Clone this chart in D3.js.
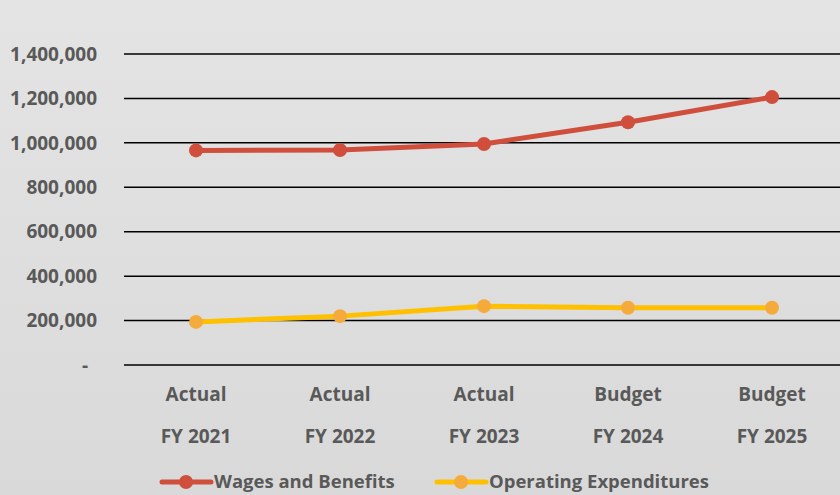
<!DOCTYPE html>
<meta charset="utf-8">
<style>
  html, body { margin: 0; padding: 0; }
  body { width: 840px; height: 495px; overflow: hidden; }
  text { font-family: "Open Sans", Lato, sans-serif; font-weight: bold; fill: #595959; }
</style>
<body>
<script src="https://cdn.jsdelivr.net/npm/d3@7"></script>
<script>
  // chart data
  var periods = ["Actual", "Actual", "Actual", "Budget", "Budget"];
  var years = ["FY 2021", "FY 2022", "FY 2023", "FY 2024", "FY 2025"];
  var wages = [966000, 968000, 995000, 1093000, 1206000];
  var opex = [194000, 220000, 265000, 258000, 258000];
  var yTicks = [0, 200000, 400000, 600000, 800000, 1000000, 1200000, 1400000];

  var width = 840, height = 495;
  var margin = { top: 54, right: -4, bottom: 130, left: 124 };

  var svg = d3.select("body").append("svg")
    .attr("width", width)
    .attr("height", height);

  // background gradient
  var grad = svg.append("defs").append("linearGradient")
    .attr("id", "bg").attr("x1", 0).attr("y1", 0).attr("x2", 0).attr("y2", 1);
  grad.append("stop").attr("offset", "0%").attr("stop-color", "#e4e4e4");
  grad.append("stop").attr("offset", "100%").attr("stop-color", "#d9d9d9");
  svg.append("rect").attr("width", width).attr("height", height).attr("fill", "url(#bg)");

  var x = d3.scaleBand()
    .domain(years)
    .range([margin.left, width - margin.right]);

  var y = d3.scaleLinear()
    .domain([0, 1400000])
    .range([height - margin.bottom, margin.top]);

  // gridlines
  svg.append("g")
    .selectAll("line")
    .data(yTicks)
    .enter().append("line")
    .attr("x1", margin.left)
    .attr("x2", width)
    .attr("y1", function (d) { return y(d); })
    .attr("y2", function (d) { return y(d); })
    .attr("stroke", "#000")
    .attr("stroke-width", 1.5);

  // y labels
  svg.append("g")
    .selectAll("text")
    .data(yTicks)
    .enter().append("text")
    .attr("x", function (d) { return d === 0 ? 88 : 97; })
    .attr("y", function (d) { return y(d); })
    .attr("dy", "0.35em")
    .attr("text-anchor", "end")
    .style("font-size", "19px")
    .text(function (d) { return d === 0 ? "-" : d3.format(",")(d); });

  // x labels
  var xl = svg.append("g")
    .selectAll("g")
    .data(years)
    .enter().append("g")
    .attr("transform", function (d) { return "translate(" + (x(d) + x.bandwidth() / 2) + ",0)"; });
  xl.append("text")
    .attr("y", 401)
    .attr("text-anchor", "middle")
    .style("font-size", "19px")
    .text(function (d, i) { return periods[i]; });
  xl.append("text")
    .attr("y", 443)
    .attr("text-anchor", "middle")
    .style("font-size", "19px")
    .text(function (d) { return d; });

  var line = d3.line()
    .x(function (d, i) { return x(years[i]) + x.bandwidth() / 2; })
    .y(function (d) { return y(d); });

  var series = [
    { name: "Wages and Benefits", values: wages, stroke: "#cf4f3c", marker: "#cf4f3c" },
    { name: "Operating Expenditures", values: opex, stroke: "#ffc000", marker: "#f5ab3c" }
  ];

  series.forEach(function (s) {
    svg.append("path")
      .datum(s.values)
      .attr("d", line)
      .attr("fill", "none")
      .attr("stroke", s.stroke)
      .attr("stroke-width", 5)
      .attr("stroke-linejoin", "round");
    svg.append("g")
      .selectAll("circle")
      .data(s.values)
      .enter().append("circle")
      .attr("cx", function (d, i) { return x(years[i]) + x.bandwidth() / 2; })
      .attr("cy", function (d) { return y(d); })
      .attr("r", 7)
      .attr("fill", s.marker);
  });

  // legend
  var legendX = [160, 435];
  series.forEach(function (s, i) {
    var g = svg.append("g").attr("transform", "translate(" + legendX[i] + ",482)");
    g.append("line")
      .attr("x1", 2).attr("x2", 51)
      .attr("stroke", s.stroke).attr("stroke-width", 5).attr("stroke-linecap", "round");
    g.append("circle").attr("cx", 26).attr("r", 7).attr("fill", s.marker);
    g.append("text")
      .attr("x", 54)
      .attr("dy", "0.35em")
      .style("font-size", "18.5px")
      .text(s.name);
  });
</script>
</body>
